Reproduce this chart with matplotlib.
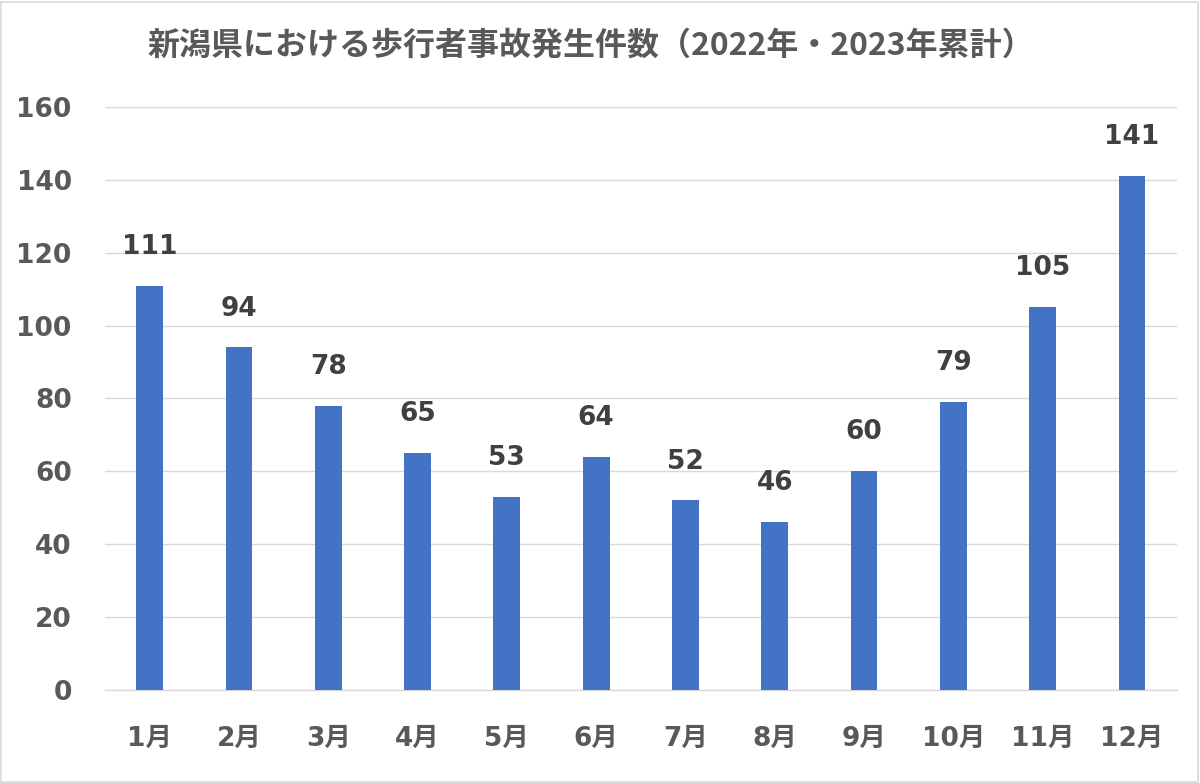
import matplotlib
matplotlib.use("Agg")
import matplotlib.pyplot as plt
from matplotlib.patches import Rectangle

# data
months = ["1月", "2月", "3月", "4月", "5月", "6月",
          "7月", "8月", "9月", "10月", "11月", "12月"]
counts = [111, 94, 78, 65, 53, 64, 52, 46, 60, 79, 105, 141]
y_ticks = [0, 20, 40, 60, 80, 100, 120, 140, 160]
title = "新潟県における歩行者事故発生件数（2022年・2023年累計）"

BAR = "#4472C4"
GRID = "#D9D9D9"
TICK_TXT = "#595959"
LABEL_TXT = "#404040"
FONTS = ["DejaVu Sans", "Noto Sans CJK JP"]

plt.rcParams["font.family"] = FONTS

fig = plt.figure(figsize=(12, 7.83), dpi=100)
ax = fig.add_axes([0.0875, 0.1188, 0.893, 0.7446])

x = range(len(months))
bars = ax.bar(x, counts, width=0.30, color=BAR, zorder=3)

for bar, val in zip(bars, counts):
    ax.annotate(f"{val}", (bar.get_x() + bar.get_width() / 2, bar.get_height()),
                xytext=(0, 28), textcoords="offset points",
                ha="center", va="center", fontsize=19, fontweight="bold",
                color=LABEL_TXT)

ax.set_xlim(-0.5, len(months) - 0.5)
ax.set_ylim(0, 160)
ax.set_yticks(y_ticks)
ax.set_xticks(list(x))
ax.set_xticklabels(months)
ax.tick_params(axis="y", length=0, pad=24, labelsize=19, labelcolor=TICK_TXT)
ax.tick_params(axis="x", length=0, pad=26, labelsize=19, labelcolor=TICK_TXT)
for lbl in ax.get_xticklabels() + ax.get_yticklabels():
    lbl.set_fontweight("bold")

ax.grid(axis="y", color=GRID, linewidth=1.0, zorder=0)
for side in ["top", "right", "left"]:
    ax.spines[side].set_visible(False)
ax.spines["bottom"].set_color(GRID)
ax.spines["bottom"].set_linewidth(1.0)

fig.text(0.4925, 0.942, title, ha="center", va="center", fontsize=23,
         fontweight="bold", color=TICK_TXT, family=["Noto Sans CJK JP", "DejaVu Sans"])

# light frame around the chart
fig.patches.append(Rectangle((0.001, 0.001), 0.997, 0.997, transform=fig.transFigure,
                             fill=False, edgecolor=GRID, linewidth=1.2))

fig.savefig("out.png", dpi=100, facecolor="white")
